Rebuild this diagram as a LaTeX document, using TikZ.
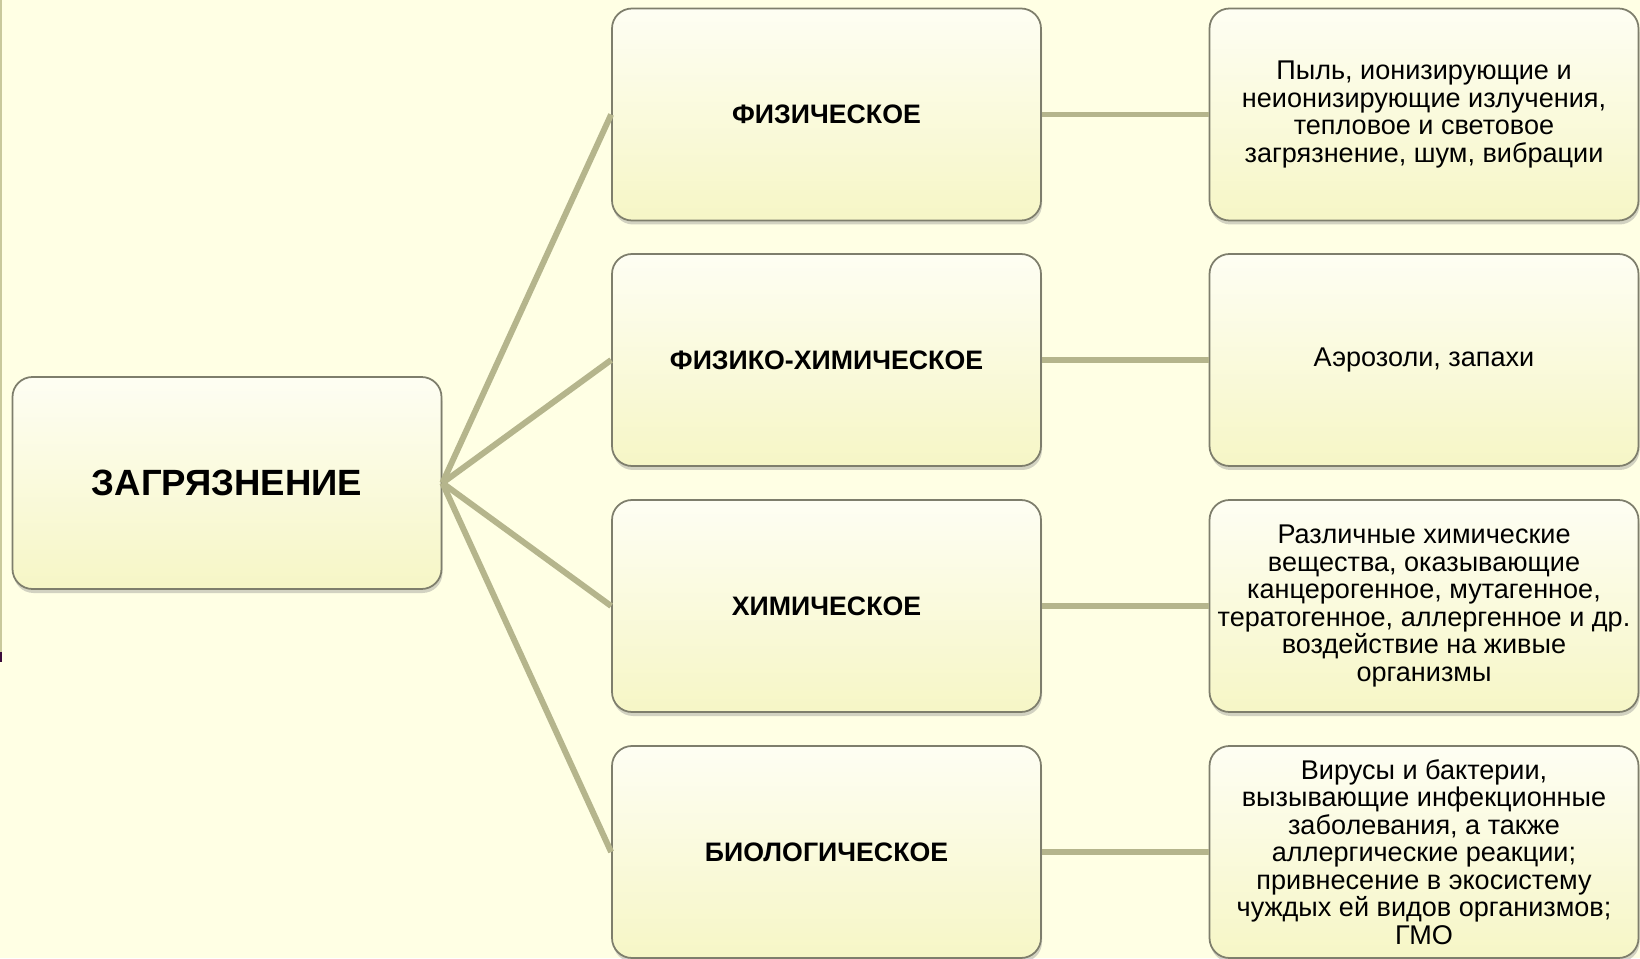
\documentclass[tikz,border=0pt]{standalone}
\usepackage{fontspec}
\setmainfont{Liberation Sans}
\usetikzlibrary{shadows,backgrounds}

\definecolor{bgcream}{HTML}{FFFFE4}
\definecolor{boxtop}{HTML}{FEFEF3}
\definecolor{boxbot}{HTML}{F6F6C6}
\definecolor{boxline}{HTML}{7E7E6C}
\definecolor{linkolive}{HTML}{B5B58C}
\definecolor{stripolive}{HTML}{C9C99C}
\definecolor{stripdark}{HTML}{3A0C3A}

\tikzset{
  pbox/.style = {draw=boxline, line width=0.5pt, rounded corners=0.2cm,
    minimum width=4.29cm, minimum height=2.12cm, inner sep=0pt,
    top color=boxtop, bottom color=boxbot, align=center,
    drop shadow={opacity=0.35, shadow xshift=0.01cm, shadow yshift=-0.04cm}},
  kind/.style = {pbox, font=\bfseries\fontsize{7.6}{9}\selectfont},
  info/.style = {pbox, font=\fontsize{7.7}{7.85}\selectfont},
  link/.style = {draw=linkolive, line width=1.7pt},
}

\begin{document}
\begin{tikzpicture}
\useasboundingbox (0,0) rectangle (16.4,9.58);
\fill[bgcream] (0,0) rectangle (16.4,9.58);
\fill[stripolive] (0,9.58) rectangle (0.02,3.06);
\fill[stripdark] (0,3.06) rectangle (0.025,2.96);

% root
\node[pbox, font=\bfseries\fontsize{10.4}{12}\selectfont] (zagr) at (2.27,4.75) {ЗАГРЯЗНЕНИЕ};

% kinds
\node[kind] (phys) at (8.265,8.435) {ФИЗИЧЕСКОЕ};
\node[kind] (physchem) at (8.265,5.98) {ФИЗИКО-ХИМИЧЕСКОЕ};
\node[kind] (chem) at (8.265,3.52) {ХИМИЧЕСКОЕ};
\node[kind] (bio) at (8.265,1.06) {БИОЛОГИЧЕСКОЕ};

% examples
\node[info] (physex) at (14.24,8.435)
  {Пыль, ионизирующие и\\неионизирующие излучения,\\тепловое и световое\\загрязнение, шум, вибрации};
\node[info] (physchemex) at (14.24,5.98) {Аэрозоли, запахи};
\node[info] (chemex) at (14.24,3.52)
  {Различные химические\\вещества, оказывающие\\канцерогенное, мутагенное,\\тератогенное, аллергенное и др.\\воздействие на живые\\организмы};
\node[info] (bioex) at (14.24,1.06)
  {Вирусы и бактерии,\\вызывающие инфекционные\\заболевания, а также\\аллергические реакции;\\привнесение в экосистему\\чуждых ей видов организмов;\\ГМО};

\draw[link] (zagr.east) -- (phys.west);
\draw[link] (zagr.east) -- (physchem.west);
\draw[link] (zagr.east) -- (chem.west);
\draw[link] (zagr.east) -- (bio.west);
\draw[link] (phys.east) -- (physex.west);
\draw[link] (physchem.east) -- (physchemex.west);
\draw[link] (chem.east) -- (chemex.west);
\draw[link] (bio.east) -- (bioex.west);
\end{tikzpicture}
\end{document}
